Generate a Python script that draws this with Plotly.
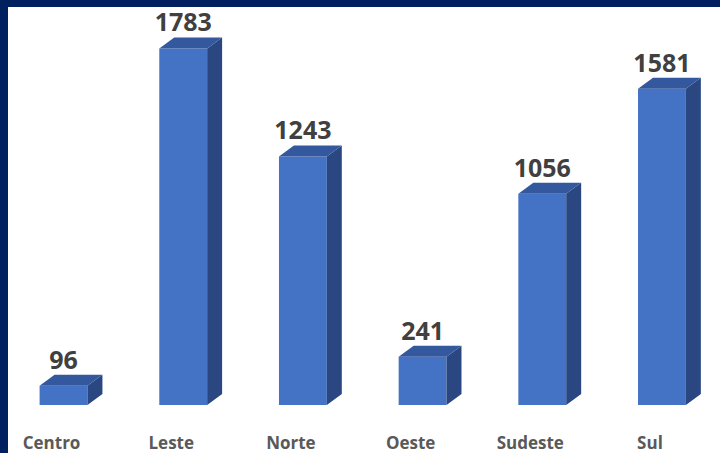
import plotly.graph_objects as go

# dados
regioes = ["Centro", "Leste", "Norte", "Oeste", "Sudeste", "Sul"]
totais = [96, 1783, 1243, 241, 1056, 1581]

pos = list(range(len(regioes)))
largura = 0.4      # front face width (axis units)
prof_x = 0.125     # 3d depth offset in x
prof_y = 55        # 3d depth offset in y

cor_frente = "#4472C4"
cor_topo = "#34589E"
cor_lado = "#2A4782"

# build top/side polygons from the data
topo_x, topo_y, lado_x, lado_y = [], [], [], []
for xi, v in zip(pos, totais):
    x0, x1 = xi - largura / 2, xi + largura / 2
    topo_x += [x0, x1, x1 + prof_x, x0 + prof_x, x0, None]
    topo_y += [v, v, v + prof_y, v + prof_y, v, None]
    lado_x += [x1, x1 + prof_x, x1 + prof_x, x1, x1, None]
    lado_y += [0, prof_y, v + prof_y, v, 0, None]

fig = go.Figure()
fig.add_trace(go.Bar(x=pos, y=totais, width=largura, marker=dict(color=cor_frente, line=dict(width=0)),
                     hoverinfo="skip"))
fig.add_trace(go.Scatter(x=lado_x, y=lado_y, fill="toself", fillcolor=cor_lado, mode="none",
                         hoverinfo="skip"))
fig.add_trace(go.Scatter(x=topo_x, y=topo_y, fill="toself", fillcolor=cor_topo, mode="none",
                         hoverinfo="skip"))

# value labels
fig.add_trace(go.Scatter(x=pos, y=[v + prof_y for v in totais], mode="text",
                         text=[str(v) for v in totais], textposition="top center",
                         textfont=dict(family="Open Sans", size=25, color="#404040", weight="bold"),
                         hoverinfo="skip", cliponaxis=False))
# category labels
fig.add_trace(go.Scatter(x=[p - 0.1 for p in pos], y=[-200] * len(pos), mode="text",
                         text=regioes, textposition="middle center",
                         textfont=dict(family="Open Sans", size=17, color="#595959", weight="bold"),
                         hoverinfo="skip", cliponaxis=False))

fig.update_layout(
    width=720, height=453,
    margin=dict(l=8, r=0, t=7, b=0),
    paper_bgcolor="#002060",
    plot_bgcolor="white",
    showlegend=False,
    xaxis=dict(range=[-0.464, 5.485], visible=False, fixedrange=True),
    yaxis=dict(range=[-240, 1990], visible=False, fixedrange=True),
)

# drop the default page margin so the figure sits at the window corner
fig.write_html("out.html", config={"displayModeBar": False},
               post_script="document.body.style.margin='0';document.body.style.overflow='hidden';")
